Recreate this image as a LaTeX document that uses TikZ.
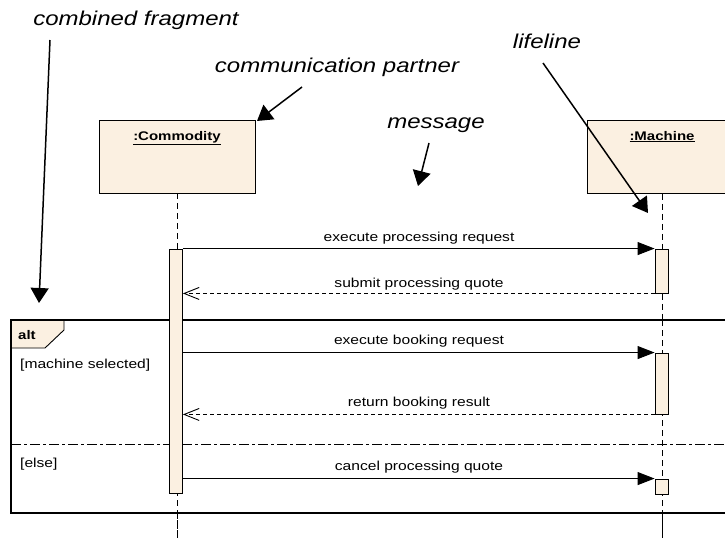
\documentclass[tikz,border=0pt]{standalone}
\usepackage{fontspec}
\setmainfont[FakeStretch=1.2]{Liberation Sans}
\usetikzlibrary{arrows.meta}
\definecolor{beige}{HTML}{FBF0E1}
\tikzset{
  partbox/.style={draw=black, line width=0.9pt, fill=beige, minimum width=150pt, minimum height=73pt, inner sep=0pt},
  plabel/.style={font=\fontsize{12.5}{14}\selectfont\bfseries, anchor=base, inner sep=0pt},
  actbox/.style={draw=black, line width=0.9pt, fill=beige, minimum width=13pt, inner sep=0pt},
  lifeline/.style={line width=0.8pt, dash pattern=on 6pt off 4pt},
  syncmsg/.style={line width=0.9pt, -{Triangle[length=17pt,width=13pt]}},
  retmsg/.style={line width=0.9pt, dash pattern=on 4pt off 3pt, -{Straight Barb[length=15pt,width=12pt,line width=0.9pt]}},
  msglabel/.style={font=\fontsize{13}{15}\selectfont, anchor=base, inner sep=0pt},
  guard/.style={font=\fontsize{13}{15}\selectfont, anchor=base west, inner sep=0pt},
  annot/.style={font=\fontsize{20}{24}\selectfont\itshape, anchor=base, inner sep=0pt},
  annarrow/.style={line width=1.5pt, -{Triangle[length=15pt,width=18pt]}},
  frameline/.style={line width=1.5pt},
}
\begin{document}
\begin{tikzpicture}[x=1pt,y=-1pt]
\useasboundingbox (0,0) rectangle (725,538);
\clip (0,0) rectangle (725,538);

% participants
\node[partbox, minimum width=156pt] (com) at (177,156.5) {};
\node[plabel] (comL) at (177,140) {\underline{:Commodity}};
\node[partbox] (mach) at (662,157) {};
\node[plabel] (machL) at (662,140) {\underline{:Machine}};

% lifeline ends
\coordinate (comEnd) at (177,538);
\coordinate (machEnd) at (662,538);
\draw[lifeline] (com.south) -- (comEnd);
\draw[lifeline] (mach.south) -- (machEnd);

% combined fragment
\coordinate (frNW) at (11,320);
\coordinate (frSE) at (745,513);
\draw[frameline, fill=white] (frNW) rectangle (frSE);
\coordinate (sepL) at (11,444);
\coordinate (sepR) at (745,444);
\draw[line width=0.9pt, dash pattern=on 10pt off 3pt on 3pt off 3pt] (sepL) -- (sepR);
\draw[line width=0.9pt, fill=beige] (11,320) -- (64,320) -- (64,330) -- (45,348) -- (11,348) -- cycle;
\draw[frameline] (frNW) rectangle (frSE);
\node[font=\fontsize{12.5}{14}\selectfont\bfseries, anchor=base west, inner sep=0pt] (altL) at (18,339) {alt};
\node[guard] (g1) at (20,368) {[machine selected]};
\node[guard] (g2) at (20,467) {[else]};

% lifelines over frame
\draw[lifeline] (177,320) -- (comEnd);
\draw[lifeline] (662,320) -- (machEnd);

% activations
\node[actbox, minimum height=244pt] (comAct) at (176,371) {};
\node[actbox, minimum height=44pt] (m1) at (661.5,271) {};
\node[actbox, minimum height=61pt] (m2) at (661.5,383.5) {};
\node[actbox, minimum height=15pt] (m3) at (661.5,486.5) {};

% messages
\draw[syncmsg] (comAct.east |- m1.north) -- (m1.north west);
\node[msglabel] (l1) at (419,241) {execute processing request};
\draw[retmsg] (m1.south west) -- (comAct.east |- m1.south);
\node[msglabel] (l2) at (419,287) {submit processing quote};
\draw[syncmsg] (comAct.east |- m2.north) -- (m2.north west);
\node[msglabel] (l3) at (419,344) {execute booking request};
\draw[retmsg] (m2.south west) -- (comAct.east |- m2.south);
\node[msglabel] (l4) at (419,406) {return booking result};
\draw[syncmsg] (comAct.east |- m3.north) -- (m3.north west);
\node[msglabel] (l5) at (419,470) {cancel processing quote};

% annotations
\node[annot] (aCF) at (136,25) {combined fragment};
\node[annot] (aCP) at (337,72) {communication partner};
\node[annot] (aMsg) at (436,128) {message};
\node[annot] (aLL) at (547,48) {lifeline};
\coordinate (cfS) at (50,40);   \coordinate (cfE) at (39,303);
\coordinate (cpS) at (302,87);  \coordinate (cpE) at (257,121);
\coordinate (msS) at (429,143); \coordinate (msE) at (418,186);
\coordinate (llS) at (543,63);  \coordinate (llE) at (648,213);
\draw[annarrow] (cfS) -- (cfE);
\draw[annarrow] (cpS) -- (cpE);
\draw[annarrow] (msS) -- (msE);
\draw[annarrow] (llS) -- (llE);
\end{tikzpicture}
\end{document}
